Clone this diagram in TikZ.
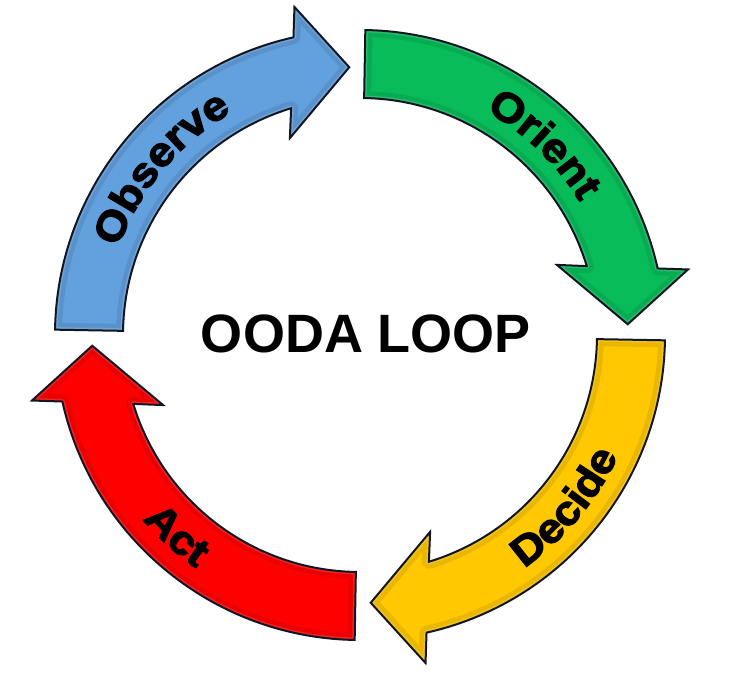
\documentclass[tikz,border=0pt]{standalone}
\usepackage{fontspec}
\setmainfont{Liberation Sans}
\newfontfamily\labelfamily{Liberation Sans}[FakeStretch=1.1, BoldFeatures={FakeBold=3}]
\usetikzlibrary{decorations.text}
\definecolor{oblue}{RGB}{98,160,222}
\definecolor{ogreen}{RGB}{8,188,90}
\definecolor{oyellow}{RGB}{255,200,0}
\definecolor{ored}{RGB}{255,0,0}
\definecolor{oline}{RGB}{18,22,35}
\newcommand\labelfont{\labelfamily\bfseries\fontsize{41}{41}\selectfont}
\newcommand\arrowpath{(89:305) arc[start angle=89, end angle=12.6, radius=305] -- (11.3:334.5) -- (2.3:268) -- (19.6:209) -- (16.9:237) arc[start angle=16.9, end angle=89, radius=237] -- cycle}
\newcommand\oodaarrow[2]{%
  \begin{scope}[shift={(360,355)}, rotate=#1]
    \fill[#2] \arrowpath;
    \begin{scope}
      \clip \arrowpath;
      \draw[line width=14pt, #2!82!black, opacity=0.45, line join=round] \arrowpath;
      \draw[line width=5pt, #2!60!white, opacity=0.35, line join=round] \arrowpath;
    \end{scope}
    \draw[arrowline] \arrowpath;
  \end{scope}}
\tikzset{
  arrowline/.style={draw=oline, line width=2pt, line join=miter},
  ringtext/.style={decorate, decoration={text along path, text align=center, text={|\labelfont|#1}}}
}
\begin{document}
\begin{tikzpicture}[x=1pt, y=1pt]
\useasboundingbox (0,0) rectangle (740,690);
\fill[white] (0,0) rectangle (740,690);
\coordinate (C) at (360,355);
\oodaarrow{90}{oblue}
\oodaarrow{0}{ogreen}
\oodaarrow{-90}{oyellow}
\oodaarrow{-180}{ored}
\path[ringtext=Observe] (C) ++(180:257) arc[start angle=180, end angle=100, radius=257];
\path[ringtext=Orient] (C) ++(86:257) arc[start angle=86, end angle=6, radius=257];
\path[ringtext=Decide] (C) ++(-80:285) arc[start angle=-80, end angle=0, radius=285];
\path[ringtext=Act] (C) ++(187.6:285) arc[start angle=187.6, end angle=267.6, radius=285];
\node[font=\bfseries\fontsize{54}{54}\selectfont, inner sep=0pt] (title) at (366,356) {OODA LOOP};
\end{tikzpicture}
\end{document}
